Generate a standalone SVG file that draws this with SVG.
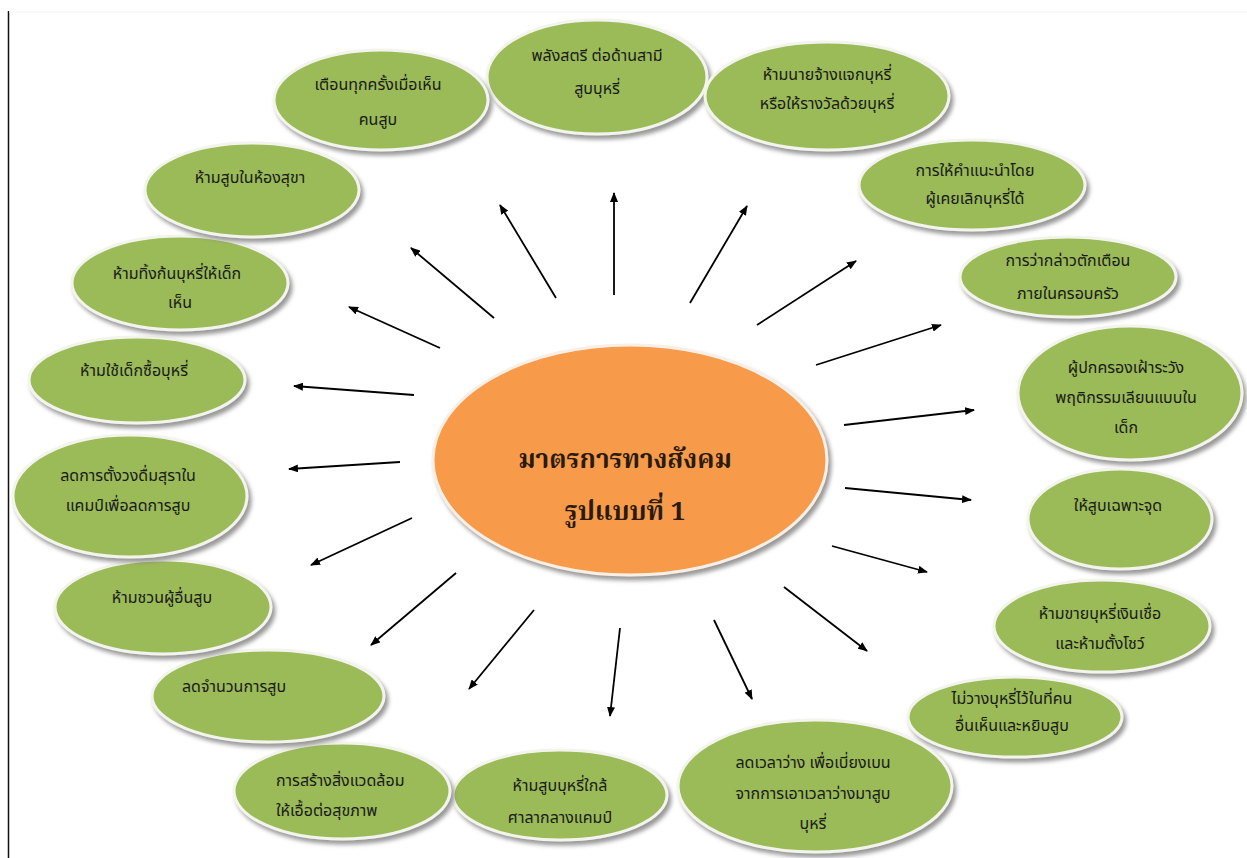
<svg xmlns="http://www.w3.org/2000/svg" width="1247" height="858" viewBox="0 0 1247 858">
<style>
.n{fill:#9BBB59;stroke:#F4F4EE;stroke-width:3;filter:url(#sh)}
.c{fill:#F79A4A;stroke:#F8EFE6;stroke-width:3;filter:url(#sh)}
.t{font-family:"Noto Sans Thai","Leelawadee UI","Tahoma","Noto Sans",sans-serif;font-size:16px;fill:#1A1A1A;text-anchor:middle}
.tl{text-anchor:start}
.ct{font-family:"Noto Serif Thai","Noto Sans Thai","Liberation Serif",serif;font-size:26px;font-weight:bold;fill:#2A1A10;text-anchor:middle}
.a{stroke:#000;stroke-width:1.8;fill:none;marker-end:url(#ah)}
</style>
<defs>
<filter id="sh" x="-10%" y="-10%" width="125%" height="130%">
<feDropShadow dx="3" dy="4" stdDeviation="2" flood-color="#7F7F7F" flood-opacity="0.8"/>
</filter>
<marker id="ah" markerWidth="10" markerHeight="8" refX="9" refY="4" orient="auto" markerUnits="userSpaceOnUse">
<path d="M0,0 L10,4 L0,8 Z" fill="#000"/>
</marker>
</defs>
<rect width="1247" height="858" fill="#fff"/>
<line x1="8.5" y1="11" x2="8.5" y2="858" stroke="#111" stroke-width="1.5"/>
<line x1="9" y1="12" x2="1247" y2="12" stroke="#F2F2F2" stroke-width="1"/>

<g id="connectors">
<line class="a" x1="614" y1="295" x2="614" y2="193"/>
<line class="a" x1="556" y1="298" x2="500" y2="205"/>
<line class="a" x1="494" y1="318" x2="411" y2="248"/>
<line class="a" x1="440" y1="348" x2="349" y2="307"/>
<line class="a" x1="414" y1="395" x2="294" y2="386"/>
<line class="a" x1="400" y1="462" x2="289" y2="469"/>
<line class="a" x1="412" y1="518" x2="311" y2="565"/>
<line class="a" x1="456" y1="573" x2="371" y2="645"/>
<line class="a" x1="534" y1="610" x2="469" y2="689"/>
<line class="a" x1="620" y1="628" x2="610" y2="716"/>
<line class="a" x1="714" y1="620" x2="752" y2="699"/>
<line class="a" x1="784" y1="587" x2="867" y2="651"/>
<line class="a" x1="832" y1="546" x2="927" y2="572"/>
<line class="a" x1="845" y1="488" x2="971" y2="500"/>
<line class="a" x1="844" y1="425" x2="974" y2="410"/>
<line class="a" x1="816" y1="365" x2="941" y2="325"/>
<line class="a" x1="757" y1="325" x2="856" y2="261"/>
<line class="a" x1="690" y1="303" x2="747" y2="206"/>
</g>

<g id="center">
<ellipse class="c" cx="630" cy="460" rx="197" ry="115"/>
<text class="ct" x="625" y="468">มาตรการทางสังคม</text>
<text class="ct" x="625" y="520">รูปแบบที่ 1</text>
</g>

<g id="n1"><ellipse class="n" cx="597" cy="77" rx="110" ry="57"/>
<text class="t" x="597" y="61">พลังสตรี ต่อด้านสามี</text><text class="t" x="597" y="94">สูบบุหรี่</text></g>
<g id="n2"><ellipse class="n" cx="381" cy="100" rx="107" ry="50"/>
<text class="t" x="378" y="90">เตือนทุกครั้งเมื่อเห็น</text><text class="t" x="378" y="125">คนสูบ</text></g>
<g id="n3"><ellipse class="n" cx="827" cy="96" rx="122" ry="54"/>
<text class="t" x="827" y="80">ห้ามนายจ้างแจกบุหรี่</text><text class="t" x="827" y="109">หรือให้รางวัลด้วยบุหรี่</text></g>
<g id="n4"><ellipse class="n" cx="972" cy="185" rx="113" ry="45"/>
<text class="t" x="975" y="176">การให้คำแนะนำโดย</text><text class="t" x="975" y="204">ผู้เคยเลิกบุหรี่ได้</text></g>
<g id="n5"><ellipse class="n" cx="1068" cy="277" rx="108" ry="40"/>
<text class="t" x="1068" y="266">การว่ากล่าวตักเตือน</text><text class="t" x="1068" y="299">ภายในครอบครัว</text></g>
<g id="n6"><ellipse class="n" cx="1130" cy="393" rx="112" ry="67"/>
<text class="t" x="1126" y="373">ผู้ปกครองเฝ้าระวัง</text><text class="t" x="1126" y="403">พฤติกรรมเลียนแบบใน</text><text class="t" x="1126" y="433">เด็ก</text></g>
<g id="n7"><ellipse class="n" cx="1120" cy="519" rx="92" ry="50"/>
<text class="t" x="1118" y="511">ให้สูบเฉพาะจุด</text></g>
<g id="n8"><ellipse class="n" cx="1102" cy="626" rx="108" ry="46"/>
<text class="t" x="1100" y="619">ห้ามขายบุหรี่เงินเชื่อ</text><text class="t" x="1100" y="649">และห้ามตั้งโชว์</text></g>
<g id="n9"><ellipse class="n" cx="1015" cy="717" rx="107" ry="40"/>
<text class="t" x="1012" y="704">ไม่วางบุหรี่ไว้ในที่คน</text><text class="t" x="1012" y="731">อื่นเห็นและหยิบสูบ</text></g>
<g id="n10"><ellipse class="n" cx="815" cy="786" rx="137" ry="66"/>
<text class="t" x="813" y="768">ลดเวลาว่าง เพื่อเบี่ยงเบน</text><text class="t" x="813" y="799">จากการเอาเวลาว่างมาสูบ</text><text class="t" x="813" y="829">บุหรี่</text></g>
<g id="n11"><ellipse class="n" cx="560" cy="795" rx="107" ry="45"/>
<text class="t" x="560" y="791">ห้ามสูบบุหรี่ใกล้</text><text class="t" x="560" y="823">ศาลากลางแคมป์</text></g>
<g id="n12"><ellipse class="n" cx="342" cy="791" rx="108" ry="48"/>
<text class="t tl" x="276" y="786">การสร้างสิ่งแวดล้อม</text><text class="t tl" x="276" y="816">ให้เอื้อต่อสุขภาพ</text></g>
<g id="n13"><ellipse class="n" cx="268" cy="696" rx="116" ry="46"/>
<text class="t" x="234" y="692">ลดจำนวนการสูบ</text></g>
<g id="n14"><ellipse class="n" cx="163" cy="607" rx="108" ry="47"/>
<text class="t" x="162" y="603">ห้ามชวนผู้อื่นสูบ</text></g>
<g id="n15"><ellipse class="n" cx="130" cy="496" rx="117" ry="61"/>
<text class="t" x="128" y="481">ลดการตั้งวงดื่มสุราใน</text><text class="t" x="128" y="511">แคมป์เพื่อลดการสูบ</text></g>
<g id="n16"><ellipse class="n" cx="137" cy="380" rx="108" ry="43"/>
<text class="t" x="134" y="376">ห้ามใช้เด็กซื้อบุหรี่</text></g>
<g id="n17"><ellipse class="n" cx="180" cy="283" rx="108" ry="47"/>
<text class="t" x="177" y="279">ห้ามทิ้งก้นบุหรี่ให้เด็ก</text><text class="t" x="180" y="308">เห็น</text></g>
<g id="n18"><ellipse class="n" cx="252" cy="190" rx="107" ry="47"/>
<text class="t" x="250" y="183">ห้ามสูบในห้องสุขา</text></g>
</svg>
